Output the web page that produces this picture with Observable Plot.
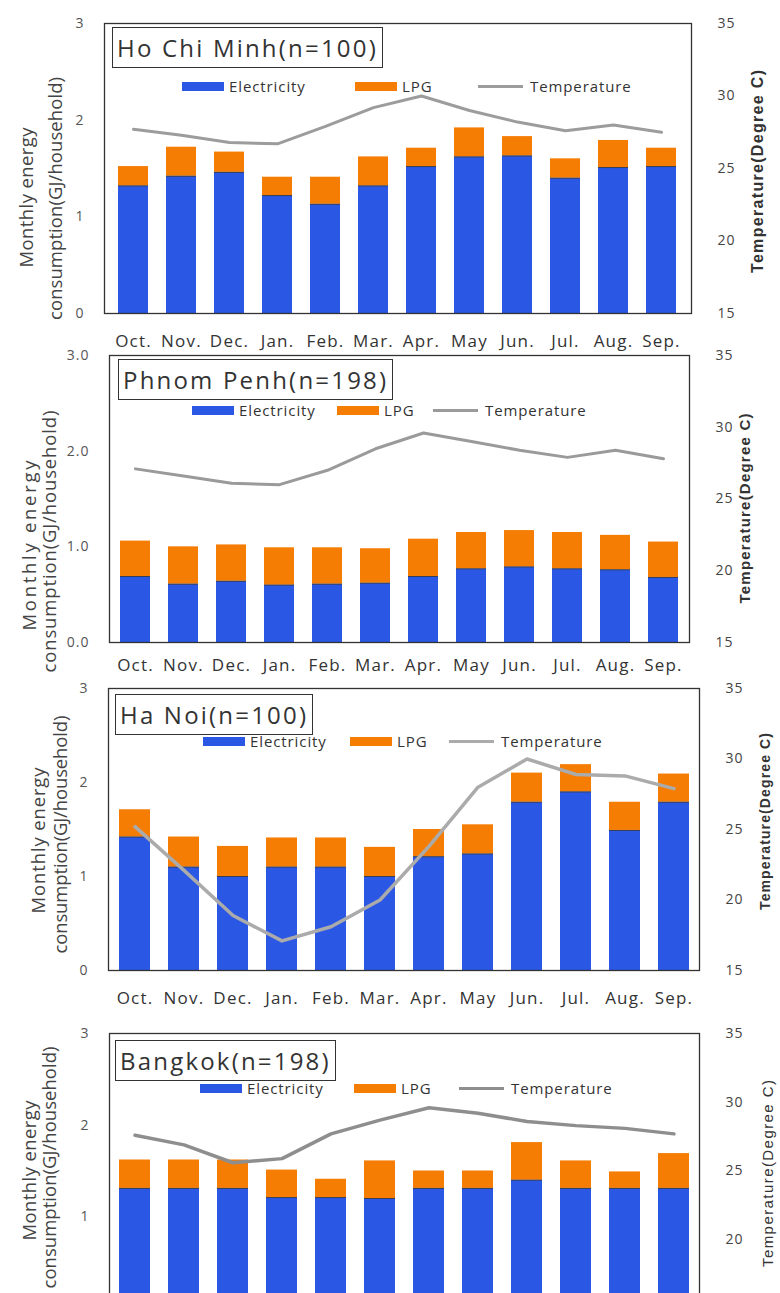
<!DOCTYPE html>
<html>
<head>
<meta charset="utf-8">
<script src="https://cdn.jsdelivr.net/npm/d3@7"></script>
<script src="https://cdn.jsdelivr.net/npm/@observablehq/plot@0.6"></script>
<style>
  body { margin: 0; background: #fff; overflow: hidden; }
  #page { position: relative; width: 780px; height: 1293px; overflow: hidden; background: #fff;
          font-family: "Open Sans", sans-serif; color: #333; }
  .panel { position: absolute; left: 0; }
  .title-box { position: absolute; border: 1.3px solid #333; height: 39px; line-height: 39px;
               padding: 0 4px 0 4px; font-size: 24px; letter-spacing: 2.2px; color: #333; white-space: nowrap; background: #fff; }
  .legend-item { position: absolute; display: flex; align-items: center; font-size: 15px;
                 letter-spacing: 0.9px; color: #333; white-space: nowrap; height: 20px; }
  .swatch { display: inline-block; width: 42px; height: 9px; margin-right: 5px; }
  .swatch-line { display: inline-block; width: 45px; height: 3px; margin-right: 7px; }
</style>
</head>
<body>
<div id="page"></div>
<script>
// Months of the survey year (October to September)
const months = ["Oct.", "Nov.", "Dec.", "Jan.", "Feb.", "Mar.", "Apr.", "May", "Jun.", "Jul.", "Aug.", "Sep."];
const cities = ["Ho Chi Minh(n=100)", "Phnom Penh(n=198)", "Ha Noi(n=100)", "Bangkok(n=198)"];
const seriesNames = ["Electricity", "LPG", "Temperature"];
const energyTitle = ["Monthly energy", "consumption(GJ/household)"];
const temperatureTitle = "Temperature(Degree C)";

// Monthly energy consumption, GJ per household, and mean temperature, degree C
const hcmElectricity = [1.32, 1.42, 1.46, 1.22, 1.13, 1.32, 1.52, 1.62, 1.63, 1.40, 1.51, 1.52];
const hcmLpg         = [0.20, 0.30, 0.21, 0.19, 0.28, 0.30, 0.19, 0.30, 0.20, 0.20, 0.28, 0.19];
const hcmTemperature = [27.7, 27.3, 26.8, 26.7, 27.9, 29.2, 30.0, 29.0, 28.2, 27.6, 28.0, 27.5];

const ppElectricity = [0.69, 0.61, 0.64, 0.60, 0.61, 0.62, 0.69, 0.77, 0.79, 0.77, 0.76, 0.68];
const ppLpg         = [0.37, 0.39, 0.38, 0.39, 0.38, 0.36, 0.39, 0.38, 0.38, 0.38, 0.36, 0.37];
const ppTemperature = [27.1, 26.6, 26.1, 26.0, 27.0, 28.5, 29.6, 29.0, 28.4, 27.9, 28.4, 27.8];

const hnElectricity = [1.42, 1.10, 1.00, 1.10, 1.10, 1.00, 1.21, 1.24, 1.79, 1.90, 1.49, 1.79];
const hnLpg         = [0.29, 0.32, 0.32, 0.31, 0.31, 0.31, 0.29, 0.31, 0.31, 0.29, 0.30, 0.30];
const hnTemperature = [25.2, 22.1, 18.9, 17.1, 18.1, 20.0, 23.8, 28.0, 30.0, 28.9, 28.8, 27.9];

const bkElectricity = [1.31, 1.31, 1.31, 1.21, 1.21, 1.20, 1.31, 1.31, 1.40, 1.31, 1.31, 1.31];
const bkLpg         = [0.31, 0.31, 0.31, 0.30, 0.20, 0.41, 0.19, 0.19, 0.41, 0.30, 0.18, 0.38];
const bkTemperature = [27.6, 26.9, 25.6, 25.9, 27.7, 28.7, 29.6, 29.2, 28.6, 28.3, 28.1, 27.7];

// Axis ticks
const energyTicks = [0, 1, 2, 3];
const temperatureTicks = [15, 20, 25, 30, 35];

const cityData = [
  [hcmElectricity, hcmLpg, hcmTemperature],
  [ppElectricity, ppLpg, ppTemperature],
  [hnElectricity, hnLpg, hnTemperature],
  [bkElectricity, bkLpg, bkTemperature]
];

const blue = "#2a57e4", orange = "#f57d04";
const pageHeight = 1293;

// Frame placement and decoration for each panel, in page pixels
const layouts = [
  {L: 104, R: 691, T: 23,   B: 313,  xPad: 21, fmt: d3.format("d"),
   box: [112, 27], legend: {y: 86, e: 182, l: 355, t: 478},
   yTitle: [{cx: 27, cy: 197, len: 140}, {cx: 56, cy: 198, len: 243}],
   rTitle: {cx: 757, cy: 171, len: 203, size: 16, bold: true},
   line: {stroke: "#9c9c9c", width: 3}},
  {L: 109, R: 689, T: 355,  B: 642,  xPad: 16, fmt: d3.format(".1f"),
   box: [118, 359], legend: {y: 410, e: 192, l: 337, t: 433},
   yTitle: [{cx: 30, cy: 545, len: 170}, {cx: 50, cy: 541, len: 262}],
   rTitle: {cx: 745, cy: 508, len: 190, size: 15, bold: true},
   line: {stroke: "#9a9a9a", width: 3}},
  {L: 108, R: 699, T: 688,  B: 970,  xPad: 21, fmt: d3.format("d"),
   box: [115, 694], legend: {y: 741, e: 203, l: 350, t: 449},
   yTitle: [{cx: 39, cy: 840, len: 146}, {cx: 61, cy: 834, len: 238}],
   rTitle: {cx: 765, cy: 821, len: 177, size: 14, bold: true},
   line: {stroke: "#ababab", width: 3.5}},
  {L: 109, R: 699, T: 1033, B: 1308, xPad: 21, fmt: d3.format("d"),
   box: [115, 1040], legend: {y: 1088, e: 200, l: 354, t: 459},
   yTitle: [{cx: 30, cy: 1170, len: 140}, {cx: 50, cy: 1167, len: 242}],
   rTitle: {cx: 768, cy: 1173, len: 187, size: 15, bold: false},
   line: {stroke: "#8e8e8e", width: 3.5}}
];

const page = document.getElementById("page");
const toY = d3.scaleLinear([15, 35], [0, 3]);

cities.forEach((city, k) => {
  const [elec, lpg, temp] = cityData[k];
  const lay = layouts[k];
  const marginTop = 23, marginBottom = 45;

  const bars = months.flatMap((m, i) => [
    {month: m, source: seriesNames[0], value: elec[i]},
    {month: m, source: seriesNames[1], value: lpg[i]}
  ]);
  const elecTops = months.map((m, i) => ({month: m, value: elec[i]}));
  const temps = months.map((m, i) => ({month: m, temp: temp[i]}));
  const midY = (lay.T + lay.B) / 2;

  // the lowest panel runs past the foot of the page: leave out labels that would sit below it
  const pixelOf = v => lay.B - v / 3 * (lay.B - lay.T);
  const onPage = v => pixelOf(v) + 8 < pageHeight;
  const leftTicks = energyTicks.filter(onPage);
  const rightTicks = temperatureTicks.map(toY).filter(onPage);
  const showMonths = lay.B + lay.xPad + 16 < pageHeight;

  const titleMarks = energyTitle.map((line, j) => Plot.text([line], {
    text: d => d, frameAnchor: "left", textAnchor: "middle", lineAnchor: "middle", rotate: -90,
    dx: lay.yTitle[j].cx - lay.L, dy: lay.yTitle[j].cy - midY,
    fontSize: 18.5, fill: "#444"
  }));

  const chart = Plot.plot({
    width: 780,
    height: (lay.B - lay.T) + marginTop + marginBottom,
    marginLeft: lay.L,
    marginRight: 780 - lay.R,
    marginTop,
    marginBottom,
    style: {background: "transparent", fontFamily: "'Open Sans', sans-serif", overflow: "visible", color: "#444"},
    x: {domain: months, paddingInner: 0.37, paddingOuter: 0.19, label: null},
    y: {domain: [0, 3], label: null},
    color: {domain: seriesNames.slice(0, 2), range: [blue, orange]},
    marks: [
      Plot.barY(bars, {x: "month", y: "value", fill: "source"}),
      // thin dark seam where the LPG segment sits on the electricity segment
      Plot.tickY(elecTops, {x: "month", y: "value", stroke: "#3a3a3a", strokeWidth: 1, strokeOpacity: 0.85}),
      Plot.line(temps, {x: "month", y: d => toY(d.temp), stroke: lay.line.stroke, strokeWidth: lay.line.width}),
      Plot.frame({stroke: "#333", strokeWidth: 1.3}),
      Plot.axisY({anchor: "left", ticks: leftTicks, tickFormat: lay.fmt, tickSize: 0, tickPadding: 20,
                  fontSize: 14, fill: "#555", label: null}),
      Plot.axisY({anchor: "right", ticks: rightTicks, tickFormat: v => Math.round(toY.invert(v)),
                  tickSize: 0, tickPadding: 26, fontSize: 14, fill: "#444", label: null}),
      showMonths ? Plot.axisX({tickSize: 0, tickPadding: lay.xPad, fontSize: 17, fill: "#333", label: null})
                 : Plot.axisX({tickSize: 0, tickFormat: () => "", label: null}),
      ...titleMarks,
      Plot.text([temperatureTitle], {
        text: d => d, frameAnchor: "right", textAnchor: "middle", lineAnchor: "middle", rotate: -90,
        dx: lay.rTitle.cx - lay.R, dy: lay.rTitle.cy - midY,
        fontSize: lay.rTitle.size, fontWeight: lay.rTitle.bold ? "bold" : "normal",
        fontFamily: "'Liberation Sans', Arial, sans-serif", fill: "#333"
      })
    ]
  });

  const svg = d3.select(chart);
  svg.selectAll('g[aria-label="x-axis tick label"] text').attr("letter-spacing", "1.2px");
  svg.selectAll('g[aria-label="y-axis tick label"] text').attr("letter-spacing", "1px");
  // stretch the rotated axis titles to their drawn lengths
  const fitLength = (str, len) => svg.selectAll("text")
    .filter(function () { return this.textContent === str; })
    .attr("textLength", len).attr("lengthAdjust", "spacing");
  energyTitle.forEach((line, j) => fitLength(line, lay.yTitle[j].len));
  fitLength(temperatureTitle, lay.rTitle.len);

  const holder = document.createElement("div");
  holder.className = "panel";
  holder.style.top = (lay.T - marginTop) + "px";
  holder.appendChild(chart);
  page.appendChild(holder);

  // City name box
  const box = document.createElement("div");
  box.className = "title-box";
  box.style.left = lay.box[0] + "px";
  box.style.top = lay.box[1] + "px";
  box.textContent = city;
  page.appendChild(box);

  // Legend: two bar swatches and a line swatch
  const items = [
    {x: lay.legend.e, name: seriesNames[0], kind: "swatch", color: blue},
    {x: lay.legend.l, name: seriesNames[1], kind: "swatch", color: orange},
    {x: lay.legend.t, name: seriesNames[2], kind: "swatch-line", color: lay.line.stroke}
  ];
  items.forEach(it => {
    const item = document.createElement("div");
    item.className = "legend-item";
    item.style.left = it.x + "px";
    item.style.top = (lay.legend.y - 10) + "px";
    const sw = document.createElement("span");
    sw.className = it.kind;
    sw.style.background = it.color;
    const label = document.createElement("span");
    label.textContent = it.name;
    item.appendChild(sw);
    item.appendChild(label);
    page.appendChild(item);
  });
});
</script>
</body>
</html>
